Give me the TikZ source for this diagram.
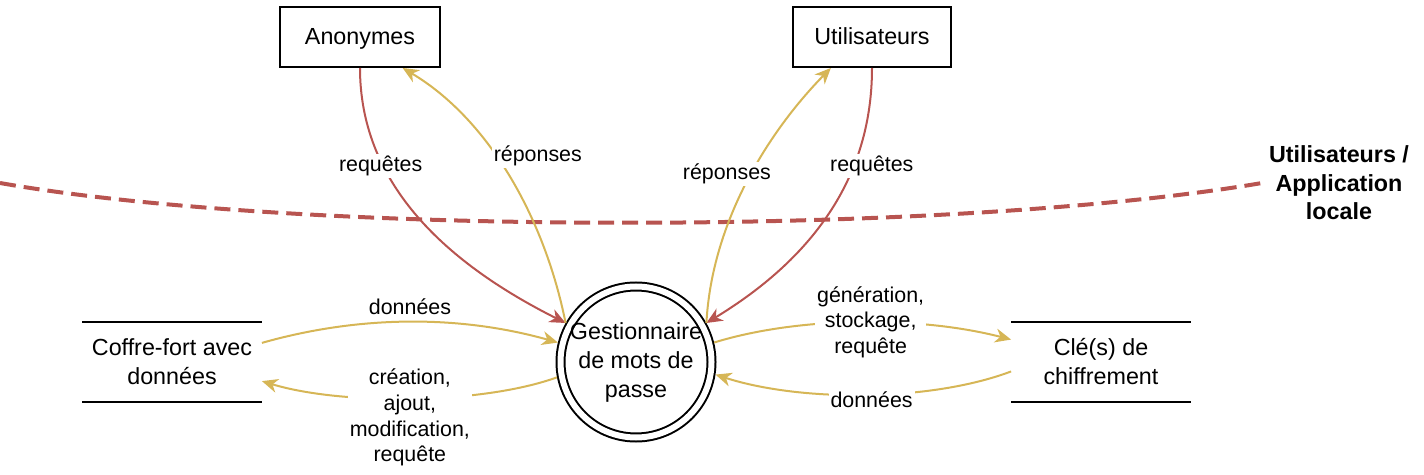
\documentclass[tikz,border=0pt]{standalone}
\usepackage{fontspec}
\setmainfont{Liberation Sans}
\usetikzlibrary{arrows.meta, positioning}
\definecolor{reqred}{HTML}{B85450}
\definecolor{repyellow}{HTML}{D6B656}
\tikzset{
	nodefont/.style={font=\fontsize{11.65}{14.5}\selectfont},
	entity/.style={draw, line width=1pt, minimum width=80pt, minimum height=30pt, text depth=0.5pt, nodefont},
	store/.style={minimum width=89.5pt, minimum height=39.5pt, align=center, nodefont},
	process/.style={circle, draw, line width=1pt, double, double distance=3pt, minimum size=75.5pt, inner sep=-1pt, outer sep=2.5pt, align=center, nodefont},
	zonelabel/.style={align=center, font=\fontsize{11.65}{14.25}\selectfont\bfseries},
	flow/.style={line width=1pt, -{Stealth[length=8pt, width=7pt, inset=2.5pt]}},
	req/.style={flow, reqred},
	rep/.style={flow, repyellow},
	lbl/.style={font=\fontsize{10.7}{12.8}\selectfont, fill=white, inner sep=1pt, align=center, text=black},
	boundary/.style={reqred, line width=2pt, dash pattern=on 8pt off 4pt}
}

\begin{document}
\begin{tikzpicture}[x=0.5pt, y=-0.5pt]
	\useasboundingbox (0,0) rectangle (1424,475);
	\node[process] (gest) at (636,362) {Gestionnaire\\de mots de\\passe};
	\node[store, node distance=232pt, left of=gest] (coffre) {Coffre-fort avec\\données};
	\node[store, node distance=232.5pt, right of=gest] (cle) {Clé(s) de\\chiffrement};
	\node[entity, node distance=162.5pt, above of=gest, xshift=-138pt] (anon) {Anonymes};
	\node[entity, minimum width=79pt, node distance=162.5pt, above of=gest, xshift=118pt] (util) {Utilisateurs};
	\node[zonelabel] (zone) at (1339,183) {Utilisateurs /\\Application\\locale};

	% magasins de donnees
	\draw[line width=1pt] (coffre.north west) -- (coffre.north east) (coffre.south west) -- (coffre.south east);
	\draw[line width=1pt] (cle.north west) -- (cle.north east) (cle.south west) -- (cle.south east);

	% frontiere
	\coordinate (bord) at (0,183);
	\draw[boundary] (bord) .. controls (300,236) and (950,236) .. (zone.west);

	% flux
	\draw[req] (anon.south) .. controls (360,180) and (440,260) .. (gest.151) node[lbl, pos=0.3, yshift=-2.5pt] {requêtes};
	\draw[rep] (gest.151) .. controls (545,220) and (490,120) .. (anon.324.5) node[lbl, pos=0.6, xshift=23pt, yshift=-2.5pt] {réponses};
	\draw[req] (util.south) .. controls (872,180) and (810,260) .. (gest.29) node[lbl, pos=0.3, xshift=8pt, yshift=-2.5pt] {requêtes};
	\draw[rep] (gest.29) .. controls (712,220) and (770,130) .. (util.217) node[lbl, pos=0.5, xshift=-10.5pt, yshift=3pt] {réponses};
	\draw[rep] (coffre.12.5) .. controls (360,315) and (460,315) .. (gest.166) node[lbl, pos=0.5, above, yshift=2pt] {données};
	\draw[rep] (gest.191.5) .. controls (480,405) and (340,405) .. (coffre.348.8) node[lbl, pos=0.5, yshift=-9.5pt] {création,\\ajout,\\modification,\\requête};
	\draw[rep] (gest.14.4) .. controls (800,316) and (920,316) .. (cle.166.6) node[lbl, pos=0.5, xshift=5pt] {génération,\\stockage,\\requête};
	\draw[rep] (cle.186.7) .. controls (930,402) and (800,402) .. (gest.351.4) node[lbl, pos=0.5, xshift=3.5pt, yshift=-2.5pt] {données};
\end{tikzpicture}
\end{document}
